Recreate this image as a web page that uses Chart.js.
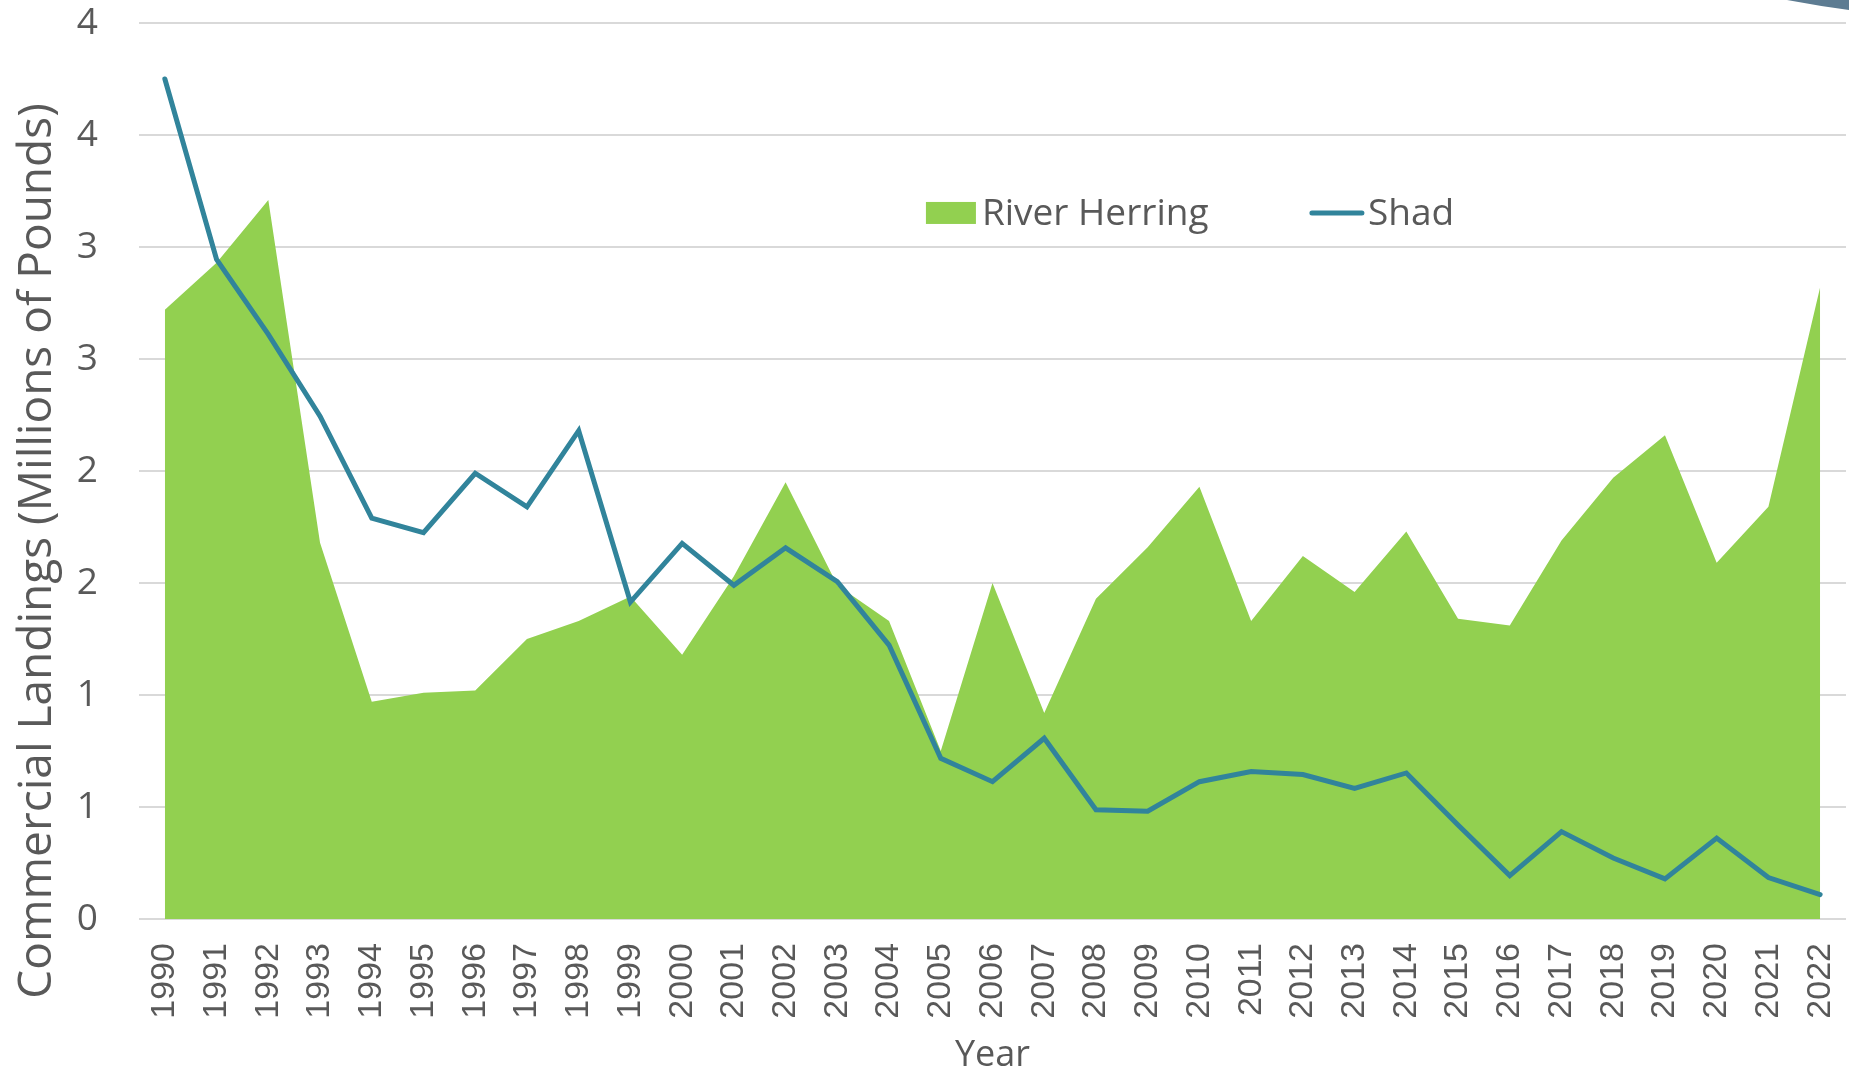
<!DOCTYPE html>
<html>
<head>
<meta charset="utf-8">
<title>Commercial Landings</title>
<script src="https://cdn.jsdelivr.net/npm/chart.js@4.4.1/dist/chart.umd.min.js"></script>
<style>
    html, body { margin: 0; padding: 0; background: #ffffff; }
    #wrap { position: relative; width: 1849px; height: 1072px; }
</style>
</head>
<body>
<div id="wrap"><canvas id="landingsChart"></canvas></div>
<script>
// values, millions of pounds
const years = ['1990', '1991', '1992', '1993', '1994', '1995', '1996', '1997', '1998', '1999',
    '2000', '2001', '2002', '2003', '2004', '2005', '2006', '2007', '2008', '2009',
    '2010', '2011', '2012', '2013', '2014', '2015', '2016', '2017', '2018', '2019',
    '2020', '2021', '2022'];

const riverHerring = [2.72, 2.93, 3.21, 1.68, 0.97, 1.01, 1.02, 1.25, 1.33, 1.44,
    1.18, 1.53, 1.95, 1.49, 1.33, 0.75, 1.50, 0.92, 1.43, 1.66,
    1.93, 1.33, 1.62, 1.46, 1.73, 1.34, 1.31, 1.69, 1.97, 2.16,
    1.59, 1.84, 2.82];

const shad = [3.75, 2.945, 2.61, 2.245, 1.79, 1.725, 1.99, 1.84, 2.18, 1.415,
    1.677, 1.49, 1.657, 1.506, 1.223, 0.717, 0.613, 0.807, 0.488, 0.481,
    0.613, 0.658, 0.645, 0.583, 0.652, 0.42, 0.194, 0.39, 0.272, 0.179,
    0.361, 0.185, 0.109];

const yTitle = 'Commercial Landings (Millions of Pounds)';
const xTitle = 'Year';

const GREEN = '#92d050';
const TEAL = '#31849b';
const TEXT = '#595959';
const GRID = '#d9d9d9';

// legend drawn inside the plot, like the spreadsheet original
const floatingLegend = {
    id: 'floatingLegend',
    afterDraw(chart) {
        const { ctx, chartArea } = chart;
        const x0 = chartArea.left + (chartArea.right - chartArea.left) * 0.461;
        const y0 = chartArea.top + (chartArea.bottom - chartArea.top) * 0.212;
        ctx.save();
        ctx.font = '37px "Open Sans"';
        ctx.fillStyle = TEXT;
        ctx.textBaseline = 'middle';

        const herring = chart.data.datasets[0];
        ctx.fillStyle = herring.backgroundColor;
        ctx.fillRect(x0, y0 - 11, 50, 22);
        ctx.fillStyle = TEXT;
        ctx.fillText(herring.label, x0 + 56, y0 + 2);

        const s = chart.data.datasets[1];
        const lx = x0 + 386;
        ctx.strokeStyle = s.borderColor;
        ctx.lineWidth = 5;
        ctx.lineCap = 'round';
        ctx.beginPath();
        ctx.moveTo(lx, y0);
        ctx.lineTo(lx + 50, y0);
        ctx.stroke();
        ctx.fillText(s.label, lx + 56, y0 + 2);
        ctx.restore();
    }
};

// y title sits lower than the plot middle in the original
const sideTitle = {
    id: 'sideTitle',
    afterDraw(chart) {
        const { ctx } = chart;
        ctx.save();
        ctx.translate(38, chart.height * 0.514);
        ctx.rotate(-Math.PI / 2);
        ctx.font = '46px "Open Sans"';
        ctx.fillStyle = TEXT;
        ctx.textAlign = 'center';
        ctx.textBaseline = 'middle';
        ctx.fillText(yTitle, 0, 0);
        ctx.restore();
    }
};

// slide decoration peeking in at the top right corner
const cornerShape = {
    id: 'cornerShape',
    afterDraw(chart) {
        const { ctx } = chart;
        const w = chart.width;
        ctx.save();
        ctx.fillStyle = '#5d7c92';
        ctx.beginPath();
        ctx.moveTo(w - 62, 0);
        ctx.quadraticCurveTo(w - 30, 6, w, 10);
        ctx.lineTo(w, 0);
        ctx.closePath();
        ctx.fill();
        ctx.restore();
    }
};

new Chart(document.getElementById('landingsChart'), {
    type: 'line',
    data: {
        labels: years,
        datasets: [
            {
                label: 'River Herring',
                data: riverHerring,
                backgroundColor: GREEN,
                borderColor: GREEN,
                borderWidth: 0,
                pointRadius: 0,
                tension: 0,
                fill: 'origin',
                order: 1
            },
            {
                label: 'Shad',
                data: shad,
                borderColor: TEAL,
                backgroundColor: TEAL,
                borderWidth: 5,
                borderCapStyle: 'round',
                pointRadius: 0,
                tension: 0,
                fill: false,
                order: 0
            }
        ]
    },
    options: {
        responsive: true,
        maintainAspectRatio: false,
        animation: false,
        layout: { padding: { top: 23, right: 3, left: 0, bottom: 0 } },
        plugins: {
            legend: { display: false },
            tooltip: { enabled: false }
        },
        scales: {
            x: {
                offset: true,
                grid: { display: false, drawTicks: false },
                border: { display: false },
                ticks: {
                    color: TEXT,
                    font: { family: '"Liberation Sans", Arial, sans-serif', size: 34 },
                    minRotation: 90,
                    maxRotation: 90,
                    padding: 24,
                    autoSkip: false
                },
                title: {
                    display: true,
                    text: xTitle,
                    color: TEXT,
                    font: { family: '"Open Sans"', size: 36 },
                    padding: { top: 0, bottom: -5 }
                },
                afterFit(scale) {
                    scale.height = 153;
                    scale.paddingLeft = 0;
                    scale.paddingRight = 0;
                }
            },
            y: {
                min: 0,
                max: 4,
                grid: { color: GRID, lineWidth: 2, drawTicks: false },
                border: { display: false },
                ticks: {
                    stepSize: 0.5,
                    color: TEXT,
                    font: { family: '"Open Sans"', size: 37 },
                    padding: 41,
                    callback: value => Math.round(value)
                },
                afterFit(scale) {
                    scale.width = 139;
                    scale.paddingTop = 0;
                    scale.paddingBottom = 0;
                }
            }
        }
    },
    plugins: [floatingLegend, sideTitle, cornerShape]
});
</script>
</body>
</html>
